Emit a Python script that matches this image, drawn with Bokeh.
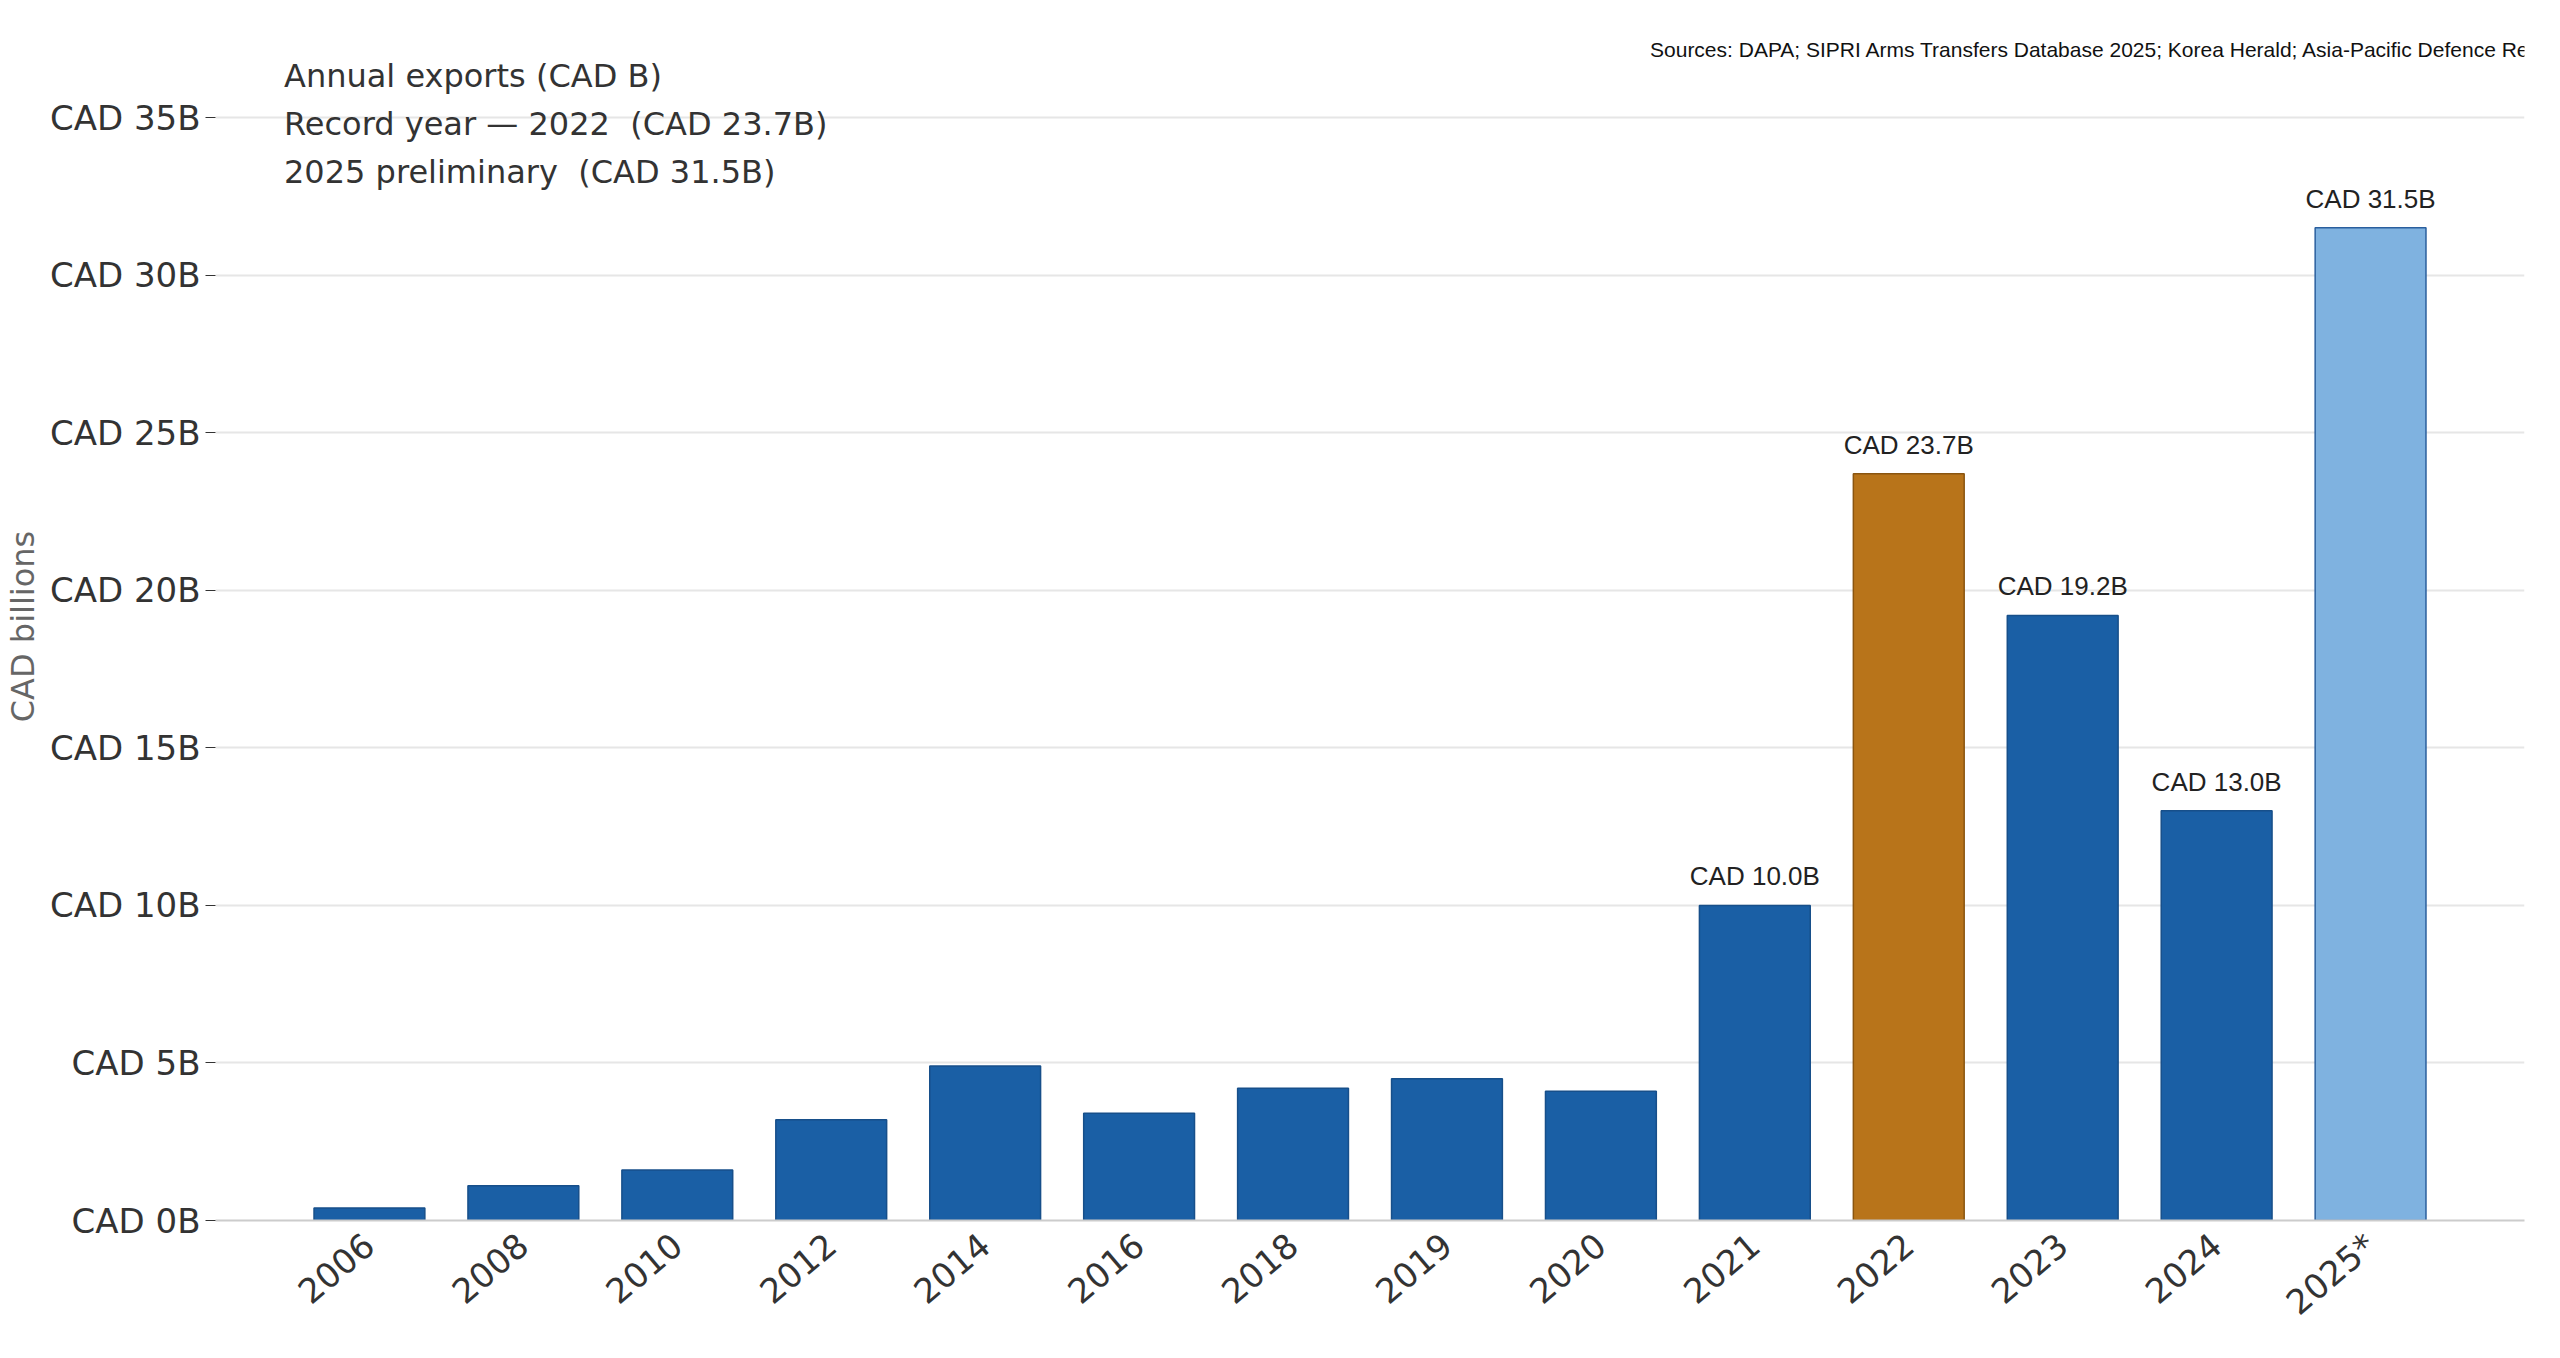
from bokeh.plotting import figure
from bokeh.models import ColumnDataSource, FactorRange, FixedTicker, CustomJSTickFormatter, Label, Legend, LegendItem, Range1d
from bokeh.embed import file_html
from bokeh.resources import INLINE

years = ["2006","2008","2010","2012","2014","2016","2018","2019","2020","2021","2022","2023","2024","2025*"]
values = [0.4,1.1,1.6,3.2,4.9,3.4,4.2,4.5,4.1,10.0,23.7,19.2,13.0,31.5]
labeled = ["", "", "", "", "", "", "", "", "", "CAD 10.0B", "CAD 23.7B", "CAD 19.2B", "CAD 13.0B", "CAD 31.5B"]

BLUE, ORANGE, LIGHT = "#1a5fa5", "#b8741a", "#7fb2e0"
colors = [ORANGE if y=="2022" else LIGHT if y=="2025*" else BLUE for y in years]
lines = ["#8a5510" if y=="2022" else "#2a5f9e" if y=="2025*" else "#174f8a" for y in years]

src = ColumnDataSource(dict(x=years, top=values, color=colors, line=lines, lab=labeled))

p = figure(width=2544, height=1340, output_backend="svg", toolbar_location=None,
           x_range=FactorRange(*years, range_padding=1/14), y_range=Range1d(0, 37.7),
           min_border_left=10, min_border_right=20, min_border_top=32, min_border_bottom=10)
p.outline_line_color = None
p.vbar(x="x", top="top", width=0.72, source=src, fill_color="color", line_color="line", line_width=1.5)
p.text(x="x", y="top", text="lab", source=src, text_align="center", text_baseline="bottom",
       y_offset=-14, text_font_size="26px", text_color="#222222")

p.yaxis.ticker = FixedTicker(ticks=[0,5,10,15,20,25,30,35])
p.yaxis.formatter = CustomJSTickFormatter(code="return 'CAD ' + tick + 'B';")
p.yaxis.axis_line_color = None
p.yaxis.major_tick_line_color = "#333333"
p.yaxis.major_tick_in = 0
p.yaxis.major_tick_out = 10
p.yaxis.minor_tick_line_color = None
p.yaxis.major_label_text_font_size = "34px"
p.yaxis.major_label_text_color = "#333333"
p.yaxis.axis_label = "CAD billions"
p.yaxis.axis_label_text_font_style = "normal"
p.yaxis.axis_label_text_font_size = "32px"
p.yaxis.axis_label_text_color = "#666666"
p.xaxis.axis_line_color = "#cccccc"
p.xaxis.axis_line_width = 2
p.xaxis.major_tick_line_color = None
p.xaxis.minor_tick_line_color = None
p.xaxis.major_label_orientation = 0.70
p.xaxis.major_label_text_font_size = "34px"
p.xaxis.major_label_text_color = "#333333"
p.xaxis.major_label_standoff = 14
for ax in (p.xaxis, p.yaxis):
    ax.major_label_text_font = "DejaVu Sans"
    ax.axis_label_text_font = "DejaVu Sans"
p.xgrid.grid_line_color = None
p.ygrid.grid_line_color = "#e6e6e6"
p.ygrid.grid_line_width = 2

d1 = p.scatter([], [], marker="square", fill_color=BLUE, line_color="#174f8a")
d2 = p.scatter([], [], marker="square", fill_color=ORANGE, line_color="#8a5510")
d3 = p.scatter([], [], marker="square", fill_color=LIGHT, line_color="#2a5f9e")
leg = Legend(items=[LegendItem(label="Annual exports (CAD B)", renderers=[d1]),
                    LegendItem(label="Record year \u2014 2022  (CAD 23.7B)", renderers=[d2]),
                    LegendItem(label="2025 preliminary  (CAD 31.5B)", renderers=[d3])],
             location="top_left", orientation="vertical")
leg.border_line_color = None
leg.background_fill_alpha = 0
leg.label_text_font = "DejaVu Sans"
leg.label_text_font_size = "32px"
leg.label_text_color = "#333333"
leg.glyph_width = 40
leg.glyph_height = 40
leg.spacing = 8
leg.padding = 0
leg.margin = 24
p.add_layout(leg)

p.add_layout(Label(x=13.5, y=0, x_offset=-6, y_offset=-38, text="preliminary figure",
                   text_font="Liberation Sans", text_font_size="21px", text_color="#111111"))
p.add_layout(Label(x=14.9, y=37.7, y_offset=-28, text="Sources: DAPA; SIPRI Arms Transfers Database 2025; Korea Herald; Asia-Pacific Defence Reporter",
                   text_align="right", text_font="Liberation Sans", text_font_size="21px", text_color="#111111"))

open("out.html", "w").write(file_html(p, INLINE))
